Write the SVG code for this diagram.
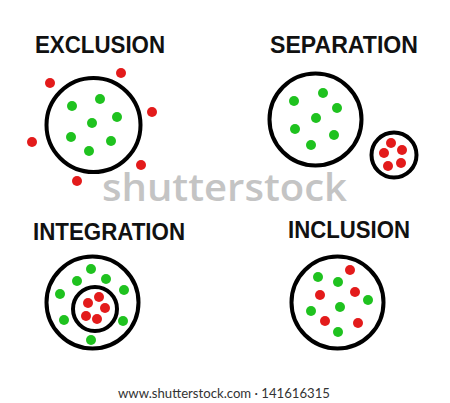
<svg xmlns="http://www.w3.org/2000/svg" width="450" height="403" viewBox="0 0 450 403">
<style>
.t{font-family:"Liberation Sans",Arial,sans-serif;font-weight:bold;font-size:24px;fill:#111}
.ring{fill:none;stroke:#000;stroke-width:4}
.g{fill:#1fc21f}
.r{fill:#e31b1b}
.wm{font-family:"Open Sans",sans-serif;font-weight:600;font-size:38px;fill:#c4c4c4}
.url{font-family:"Lato","Open Sans",sans-serif;font-size:13px;fill:#333}
</style>
<rect width="450" height="403" fill="#fff"/>
<g id="exclusion">
<text class="t" x="35" y="53" textLength="130" lengthAdjust="spacingAndGlyphs">EXCLUSION</text>
<circle class="ring" cx="93.5" cy="125" r="47"/>
<circle class="g" cx="72" cy="106" r="5"/><circle class="g" cx="100" cy="99" r="5"/><circle class="g" cx="117" cy="117" r="5"/><circle class="g" cx="92" cy="123" r="5"/><circle class="g" cx="71" cy="137" r="5"/><circle class="g" cx="111" cy="141" r="5"/><circle class="g" cx="89" cy="151" r="5"/>
<circle class="r" cx="121" cy="73" r="5"/><circle class="r" cx="50" cy="83" r="5"/><circle class="r" cx="152" cy="112" r="5"/><circle class="r" cx="32" cy="142" r="5"/><circle class="r" cx="141" cy="165" r="5"/><circle class="r" cx="77" cy="181" r="5"/>
</g>
<g id="separation">
<text class="t" x="270" y="53" textLength="148" lengthAdjust="spacingAndGlyphs">SEPARATION</text>
<circle class="ring" cx="315.5" cy="119.5" r="46"/>
<circle class="ring" cx="394" cy="155" r="22.5"/>
<circle class="g" cx="294" cy="101" r="5"/><circle class="g" cx="323" cy="93" r="5"/><circle class="g" cx="337" cy="108" r="5"/><circle class="g" cx="316" cy="118" r="5"/><circle class="g" cx="295" cy="129" r="5"/><circle class="g" cx="334" cy="135" r="5"/><circle class="g" cx="311" cy="145" r="5"/>
<circle class="r" cx="391" cy="143" r="5"/><circle class="r" cx="402" cy="150" r="5"/><circle class="r" cx="384" cy="153" r="5"/><circle class="r" cx="401" cy="163" r="5"/><circle class="r" cx="388" cy="166" r="5"/>
</g>
<g id="integration">
<text class="t" x="33" y="240" textLength="152" lengthAdjust="spacingAndGlyphs">INTEGRATION</text>
<circle class="ring" cx="92.5" cy="302.5" r="46"/>
<circle class="ring" cx="95" cy="309" r="22"/>
<circle class="g" cx="91" cy="269" r="5"/><circle class="g" cx="77" cy="281" r="5"/><circle class="g" cx="106" cy="279" r="5"/><circle class="g" cx="60" cy="294" r="5"/><circle class="g" cx="124" cy="290" r="5"/><circle class="g" cx="64" cy="320" r="5"/><circle class="g" cx="123" cy="321" r="5"/><circle class="g" cx="91" cy="340" r="5"/>
<circle class="r" cx="88" cy="303" r="5"/><circle class="r" cx="99" cy="297" r="5"/><circle class="r" cx="105" cy="308" r="5"/><circle class="r" cx="86" cy="316" r="5"/><circle class="r" cx="97" cy="319" r="5"/>
</g>
<g id="inclusion">
<text class="t" x="288" y="238" textLength="122" lengthAdjust="spacingAndGlyphs">INCLUSION</text>
<circle class="ring" cx="337.5" cy="302.5" r="46"/>
<circle class="g" cx="318" cy="277" r="5"/><circle class="g" cx="338" cy="282" r="5"/><circle class="g" cx="368" cy="300" r="5"/><circle class="g" cx="340" cy="307" r="5"/><circle class="g" cx="311" cy="311" r="5"/><circle class="g" cx="338" cy="332" r="5"/>
<circle class="r" cx="350" cy="270" r="5"/><circle class="r" cx="355" cy="292" r="5"/><circle class="r" cx="320" cy="295" r="5"/><circle class="r" cx="325" cy="321" r="5"/><circle class="r" cx="358" cy="323" r="5"/>
</g>
<text class="wm" x="102" y="201" textLength="245" lengthAdjust="spacingAndGlyphs">shutterstock</text>
<text class="url" x="118" y="398" textLength="212" lengthAdjust="spacingAndGlyphs">www.shutterstock.com · 141616315</text>
</svg>
